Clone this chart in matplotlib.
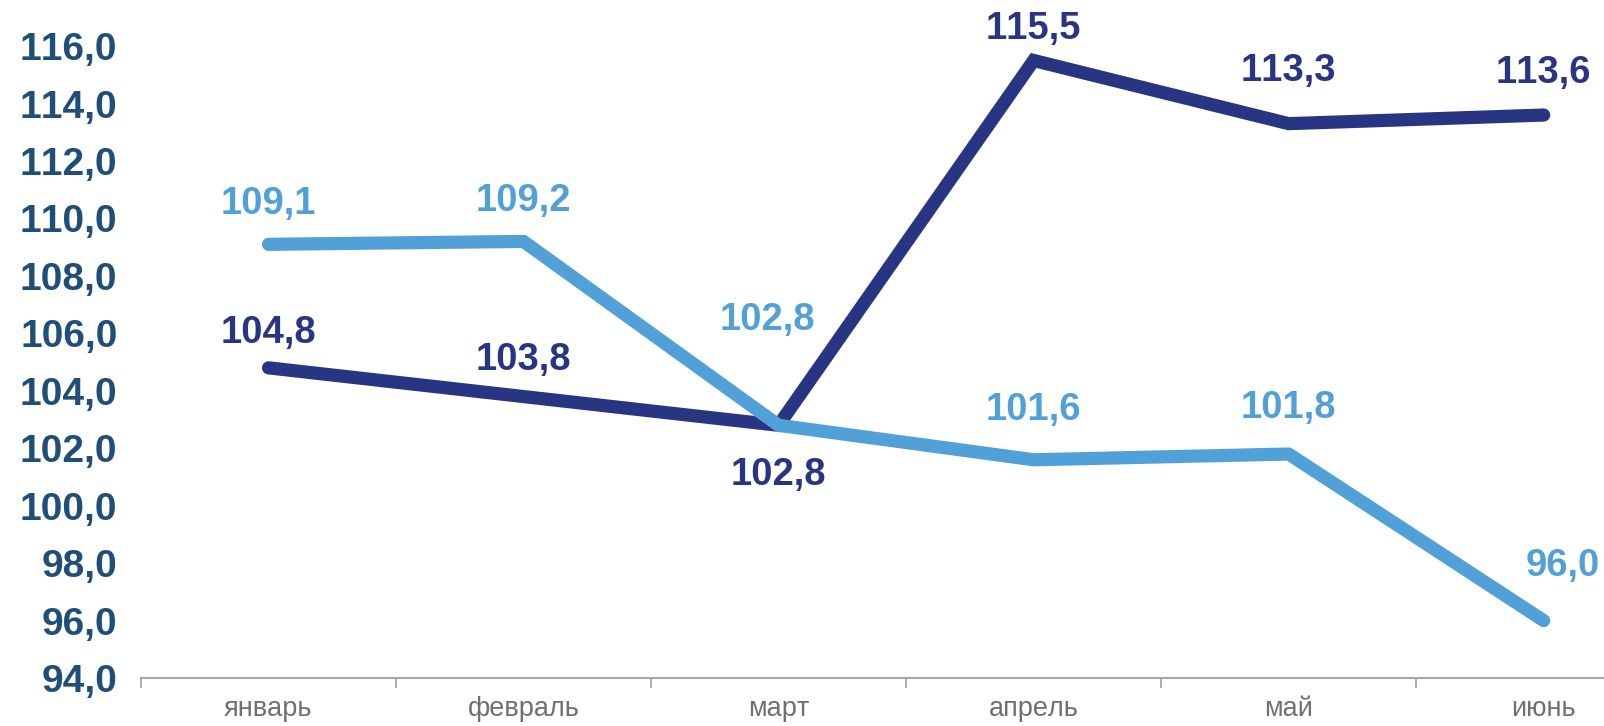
import matplotlib
matplotlib.use("Agg")
import matplotlib.pyplot as plt
from matplotlib.ticker import FixedLocator, FuncFormatter

months = ["январь", "февраль", "март", "апрель", "май", "июнь"]
dark_vals = [104.8, 103.8, 102.8, 115.5, 113.3, 113.6]
light_vals = [109.1, 109.2, 102.8, 101.6, 101.8, 96.0]
y_ticks = [94, 96, 98, 100, 102, 104, 106, 108, 110, 112, 114, 116]

DARK = "#283583"
LIGHT = "#52A0D8"
TICK_BLUE = "#1F4E79"

# label offsets in points (dx, dy)
dark_off = [(0, 25), (0, 26), (0, -36), (0, 23), (0, 38), (0, 30)]
light_off = [(0, 29), (0, 29), (-8, 76), (0, 36), (0, 33), (14, 39)]

plt.rcParams["font.family"] = ["Liberation Sans", "DejaVu Sans"]
plt.rcParams["text.kerning_factor"] = 6  # no kerning, like the office renderer


def fmt(v):
    return f"{v:.1f}".replace(".", ",")


fig = plt.figure(figsize=(16.04, 7.26), dpi=100)
ax = fig.add_axes([0.0879, 0.066, 0.954, 0.8705])

x = range(len(months))
ax.plot(x, dark_vals, color=DARK, lw=9.5, solid_capstyle="round", solid_joinstyle="miter", zorder=3)
ax.plot(x, light_vals, color=LIGHT, lw=9.5, solid_capstyle="round", solid_joinstyle="round", zorder=4)

for i, v in enumerate(dark_vals):
    ax.annotate(fmt(v), (i, v), textcoords="offset points", xytext=dark_off[i], ha="center", va="center",
                fontsize=27.5, fontweight="bold", color=DARK, annotation_clip=False)
for i, v in enumerate(light_vals):
    ax.annotate(fmt(v), (i, v), textcoords="offset points", xytext=light_off[i], ha="center", va="center",
                fontsize=27.5, fontweight="bold", color=LIGHT, annotation_clip=False)

ax.set_xlim(-0.5, len(months) - 0.5)
ax.set_ylim(94, 116)
ax.set_yticks(y_ticks)
ax.yaxis.set_major_formatter(FuncFormatter(lambda v, p: fmt(v)))
ax.tick_params(axis="y", length=0, pad=17, labelsize=28, labelcolor=TICK_BLUE)
for lab in ax.get_yticklabels():
    lab.set_fontweight("bold")

ax.set_xticks(list(x))
ax.set_xticklabels(months)
ax.xaxis.set_minor_locator(FixedLocator([i - 0.5 for i in range(len(months) + 1)]))
ax.tick_params(axis="x", which="major", length=0, pad=13, labelsize=19.5, labelcolor="#707070")
ax.tick_params(axis="x", which="minor", length=7, width=1.3, color="#A6A6A6")

for s in ["top", "right", "left"]:
    ax.spines[s].set_visible(False)
ax.spines["bottom"].set_color("#A6A6A6")
ax.spines["bottom"].set_linewidth(1.5)

fig.savefig("out.png", dpi=100)
